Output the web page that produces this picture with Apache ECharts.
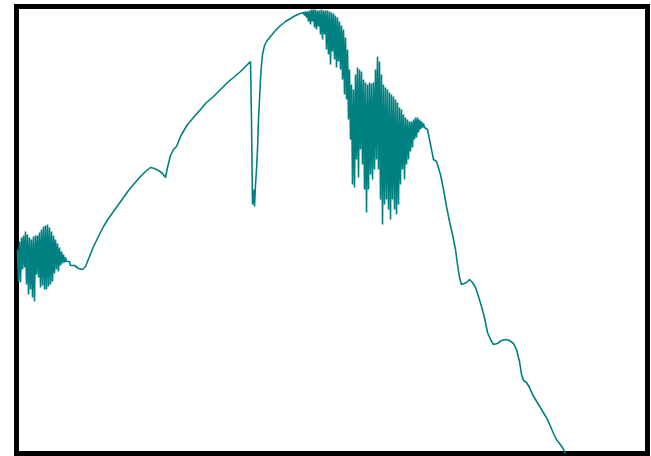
<!DOCTYPE html>
<html>
<head>
<meta charset="utf-8">
<script src="https://cdn.jsdelivr.net/npm/echarts@6/dist/echarts.min.js"></script>
<style>
  html, body { margin: 0; padding: 0; background: #fff; }
  #chart { width: 651px; height: 456px; }
</style>
</head>
<body>
<div id="chart"></div>
<script>
// spectrum samples (x: wavelength index, y: flux)
const wave = [
  1, 2, 3, 4, 5, 6, 7, 8, 9, 10, 11, 12, 13, 14, 15, 16, 17, 18, 19, 20,
  21, 22, 23, 24, 25, 26, 27, 28, 29, 30, 31, 32, 33, 34, 35, 36, 37, 38, 39, 40,
  41, 42, 43, 44, 45, 46, 47, 48, 49, 50, 51, 52, 53, 54,
  58, 62, 66, 69, 73, 77, 82, 87, 92, 97, 102, 107, 112, 117, 123, 129, 134, 138,
  142, 146, 149, 151, 154, 157, 160, 164, 168, 171, 177, 184, 190, 197, 204, 211,
  217, 224, 229, 234,
  235, 236, 237, 238, 239, 240, 241, 242, 243, 244, 245, 246, 248, 250, 254, 259,
  264, 269, 274, 279, 284,
  287, 288, 289, 290, 291, 292, 293, 294, 295, 296, 297, 298, 299, 300, 301, 302,
  303, 304, 305, 306, 307, 308, 309, 310, 311, 312, 313, 314, 315, 316, 317, 318,
  319, 320, 321, 322, 323, 324, 325, 326, 327, 328, 329, 330, 331, 332, 333, 334,
  335, 336, 337, 338, 339, 340, 341, 342, 343, 344, 345, 346, 347, 348, 349, 350,
  351, 352, 353, 354, 355, 356, 357, 358, 359, 360, 361, 362, 363, 364, 365, 366,
  367, 368, 369, 370, 371, 372, 373, 374, 375, 376, 377, 378, 379, 380, 381, 382,
  383, 384, 385, 386, 387, 388, 389, 390, 391, 392, 393, 394, 395, 396, 397, 398,
  399, 400, 401, 402, 403, 404, 405, 406, 407, 408,
  411, 414, 417, 420, 422, 424, 427, 430, 433, 436, 439, 441, 443, 445, 447, 450,
  453, 456, 459, 462, 465, 468, 471, 474, 477, 481, 485, 489, 493, 497, 500, 503,
  505, 507, 510, 513, 516, 519, 522, 525, 528, 531, 534, 537, 540, 543, 546, 549
];
const flux = [
  204, 172, 212, 171, 216, 184, 218, 186, 222, 169, 219, 159, 216, 164, 214, 156, 217, 152, 218, 179,
  218, 176, 221, 166, 224, 168, 227, 164, 228, 164, 229, 167, 226, 169, 222, 172, 218, 180, 214, 184,
  210, 182, 206, 188, 202, 190, 199, 191, 196, 192, 194, 190, 192, 188,
  188, 185, 184, 187, 197, 207, 217, 227, 235, 242, 249, 256, 263, 269, 276, 282, 286, 285,
  283, 280, 276, 286, 298, 304, 307, 317, 324, 329, 336, 344, 351, 357, 364, 371,
  376, 382, 387, 392,
  334, 249, 264, 247, 269, 284, 304, 334, 354, 374, 389, 399, 408, 412, 417, 423,
  428, 432, 435, 438, 440,
  441, 438, 442, 436, 442, 432, 443, 429, 444, 432, 444, 426, 444, 424, 443, 427,
  443, 419, 444, 414, 443, 419, 443, 404, 443, 399, 442, 389, 441, 402, 440, 394,
  438, 386, 436, 392, 432, 384, 428, 374, 424, 359, 416, 354, 404, 334, 384, 314,
  369, 269, 364, 266, 379, 294, 386, 276, 384, 304, 382, 289, 374, 264, 371, 241,
  369, 264, 371, 279, 370, 274, 371, 284, 384, 294, 397, 284, 392, 254, 379, 229,
  369, 249, 366, 254, 364, 244, 361, 234, 359, 254, 357, 244, 354, 239, 351, 249,
  346, 269, 344, 284, 339, 274, 336, 289, 334, 294, 332, 302, 332, 306, 334, 314,
  336, 316, 336, 321, 334, 324, 332, 326, 330, 326,
  324, 309, 294, 292, 294, 279, 264, 247, 232, 219, 204, 189, 176, 169, 167, 171,
  174, 171, 166, 157, 147, 136, 121, 114, 109, 110, 113, 114, 113, 110, 104, 92,
  79, 73, 71, 66, 59, 54, 49, 44, 39, 34, 27, 20, 14, 10, 6, 0
];

const chart = echarts.init(document.getElementById('chart'));
chart.setOption({
  animation: false,
  backgroundColor: '#fff',
  grid: {
    left: 16.5,
    top: 6.5,
    right: 3.5,
    bottom: 2.5,
    show: true,
    borderColor: '#000',
    borderWidth: 5,
    backgroundColor: 'transparent'
  },
  xAxis: {
    type: 'value',
    min: 0,
    max: 631,
    show: false
  },
  yAxis: {
    type: 'value',
    min: 0,
    max: 447,
    show: false
  },
  series: [
    {
      type: 'line',
      data: wave.map((w, i) => [w, flux[i]]),
      showSymbol: false,
      symbol: 'none',
      lineStyle: { color: '#008080', width: 1.6 },
      z: 1
    }
  ]
});
</script>
</body>
</html>
